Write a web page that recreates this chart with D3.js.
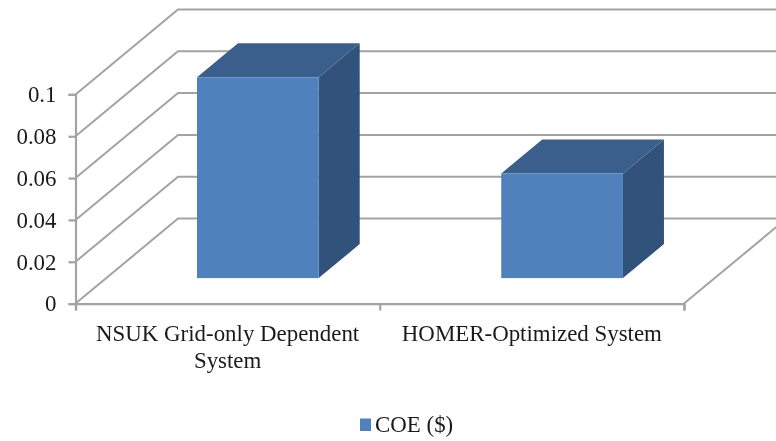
<!DOCTYPE html>
<html><head><meta charset="utf-8">
<script src="https://cdnjs.cloudflare.com/ajax/libs/d3/7.8.5/d3.min.js"></script>
<style>html,body{margin:0;padding:0;background:#fff}svg{display:block;filter:blur(0.4px)}text{font-family:"Liberation Serif",serif;fill:#1a1a1a}</style>
</head><body><div id="c"></div>
<script>
const categoryLines = [["NSUK Grid-only Dependent","System"],["HOMER-Optimized System"]];
const categories = ["NSUK","HOMER"];
const coeValues = [0.096,0.05];
const yTicks = [0,0.02,0.04,0.06,0.08,0.1];
const seriesName = "COE ($)";

const W=776,H=441,FS="22.9px";
const svg=d3.select("#c").append("svg").attr("width",W).attr("height",H);
const x=d3.scaleBand().domain(categories).range([75.5,684]).paddingInner(0.6).paddingOuter(0.3);
const y=d3.scaleLinear().domain([0,0.1]).range([303.6,94.4]);
const dX=d3.scaleLinear().domain([0,1]).range([0,102.5]);
const dY=d3.scaleLinear().domain([0,1]).range([0,-85]);
const grid="#a3a3a3";
const line=d3.line();

// walls
const gw=svg.append("g").attr("fill","none").attr("stroke",grid).attr("stroke-width",2);
yTicks.forEach(t=>{
  gw.append("path").attr("d",line([[x.range()[0],y(t)],[x.range()[0]+dX(1),y(t)+dY(1)],[W+2,y(t)+dY(1)]]));
});
gw.append("path").attr("d",line([[x.range()[1],y(0)],[x.range()[1]+dX(1),y(0)+dY(1)]]));

// axes
const yAxis=d3.axisLeft(y).tickValues(yTicks).tickFormat(d3.format("~g")).tickSize(7).tickPadding(12);
const gy=svg.append("g").attr("transform","translate(75.5,0)").call(yAxis);
const xAxis=d3.axisBottom(d3.scaleLinear().domain([0,categories.length]).range(x.range())).tickValues(d3.range(categories.length+1)).tickFormat("").tickSize(7);
const gx=svg.append("g").attr("transform","translate(0,303.6)").call(xAxis);
[gx,gy].forEach(g=>{g.selectAll("path,line").attr("stroke",grid).attr("stroke-width",2.2);});
gy.selectAll("text").style("font-size",FS);

// bars
const dFrontX=0.295,dFront=0.3,dBack=0.7;
const bars=svg.append("g").selectAll("g").data(categories).join("g");
const base=y(0);
function pts(c,v){
  const x0=x(c)+dX(dFrontX),x1=x0+x.bandwidth();
  const yb=base+dY(dFront),yt=y(v)+dY(dFront);
  const ox=dX(dBack-dFront),oy=dY(dBack-dFront);
  return {x0,x1,yb,yt,ox,oy};
}
bars.append("path").attr("fill","#31527b").attr("d",(c,i)=>{const p=pts(c,coeValues[i]);return line([[p.x1,p.yt],[p.x1+p.ox,p.yt+p.oy],[p.x1+p.ox,p.yb+p.oy],[p.x1,p.yb]])+"Z";});
bars.append("path").attr("fill","#3a5f8c").attr("d",(c,i)=>{const p=pts(c,coeValues[i]);return line([[p.x0,p.yt],[p.x0+p.ox,p.yt+p.oy],[p.x1+p.ox,p.yt+p.oy],[p.x1,p.yt]])+"Z";});
bars.append("rect").attr("fill","#4f81bd")
  .attr("x",c=>pts(c,0).x0).attr("width",x.bandwidth())
  .attr("y",(c,i)=>pts(c,coeValues[i]).yt).attr("height",(c,i)=>{const p=pts(c,coeValues[i]);return p.yb-p.yt;});

// category labels
categories.forEach((c,i)=>{
  const cx=x(c)+x.bandwidth()/2;
  categoryLines[i].forEach((t,j)=>{
    svg.append("text").attr("x",cx).attr("y",341+j*27).attr("text-anchor","middle").style("font-size",FS).text(t);
  });
});

// legend
svg.append("rect").attr("x",360).attr("y",418.5).attr("width",11).attr("height",12.5).attr("fill","#4f81bd");
svg.append("text").attr("x",375).attr("y",432).style("font-size",FS).text(seriesName);
</script></body></html>
